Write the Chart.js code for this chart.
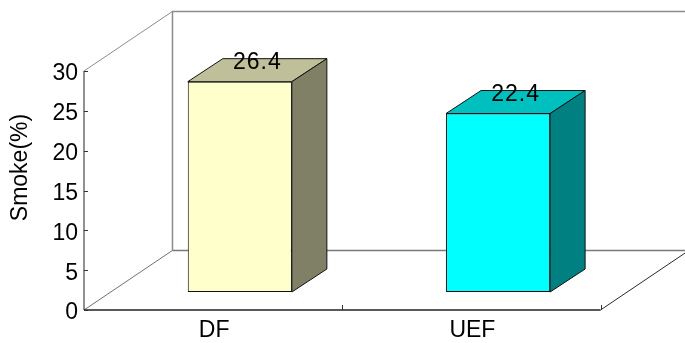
<!DOCTYPE html>
<html>
<head>
<meta charset="utf-8">
<style>html,body{margin:0;padding:0;background:#fff}canvas{display:block}</style>
<script src="https://cdn.jsdelivr.net/npm/chart.js@4"></script>
</head>
<body>
<canvas id="c" width="685" height="343"></canvas>
<script>
const categories = ['DF', 'UEF'];
const smoke = [26.4, 22.4];
const yTicks = [0, 5, 10, 15, 20, 25, 30];
const frontColors = ['#FFFFCC', '#00FFFF'];
const topColors = ['#BFBF99', '#00BFBF'];
const sideColors = ['#808066', '#008080'];

const FONT = '"Liberation Sans", Arial, sans-serif';
const FONT_SIZE = 23;
const WALL = {dx: 88.5, dy: 59.6}; // depth of the box behind the axes
const BAR = {dx: 35, dy: 23};      // depth of each bar
const BAR_SHIFT = {x: 26.7, y: -18}; // bars stand in the middle of the floor

function poly(ctx, pts, fill, stroke, width) {
  ctx.beginPath();
  pts.forEach((p, i) => i ? ctx.lineTo(p[0], p[1]) : ctx.moveTo(p[0], p[1]));
  if (fill) { ctx.closePath(); ctx.fillStyle = fill; ctx.fill(); }
  if (stroke) { ctx.strokeStyle = stroke; ctx.lineWidth = width || 1; ctx.stroke(); }
}

const box3d = {
  id: 'box3d',
  // Back wall and floor
  beforeDatasetsDraw(chart) {
    const {ctx, chartArea: a} = chart;
    const y0 = chart.scales.y.getPixelForValue(0);
    const yMax = chart.scales.y.getPixelForValue(30);
    const bx = a.left + WALL.dx;
    const wall = '#8c8c8c';
    ctx.save();
    poly(ctx, [[685, yMax - WALL.dy], [bx, yMax - WALL.dy], [bx, y0 - WALL.dy]], null, wall, 1.5);
    poly(ctx, [[bx, y0 - WALL.dy], [685, y0 - WALL.dy]], null, '#7a7a7a', 1.5);
    poly(ctx, [[a.left, yMax], [bx, yMax - WALL.dy]], null, '#8c8c8c', 1);
    poly(ctx, [[a.left, y0], [bx, y0 - WALL.dy]], null, '#707070', 1);
    poly(ctx, [[a.right, y0], [a.right + WALL.dx, y0 - WALL.dy]], null, '#2a2a2a', 1);
    ctx.restore();
  },
  // Bars are drawn raised above the front axis, with their depth faces first
  beforeDatasetDraw(chart, args) {
    const {ctx} = chart;
    ctx.save();
    ctx.translate(BAR_SHIFT.x, BAR_SHIFT.y);
    args.meta.data.forEach((bar, i) => {
      const l = bar.x - bar.width / 2, r = bar.x + bar.width / 2;
      const t = bar.y, b = bar.base;
      poly(ctx, [[l, t], [l + BAR.dx, t - BAR.dy], [r + BAR.dx, t - BAR.dy], [r, t]], topColors[i], '#111', 1);
      poly(ctx, [[r, t], [r + BAR.dx, t - BAR.dy], [r + BAR.dx, b - BAR.dy], [r, b]], sideColors[i], '#111', 1);
    });
  },
  afterDatasetDraw(chart) {
    chart.ctx.restore();
  },
  // Axis lines, inward ticks, value labels and the axis title
  afterDraw(chart) {
    const {ctx, chartArea: a, scales: {x, y}} = chart;
    const y0 = y.getPixelForValue(0);
    ctx.save();
    ctx.strokeStyle = '#111';
    ctx.lineWidth = 1;
    poly(ctx, [[a.left, y.getPixelForValue(30)], [a.left, y0]], null, '#222', 1);
    poly(ctx, [[a.left, y0], [a.right, y0]], null, '#222', 1.5);
    yTicks.forEach(v => {
      const p = Math.round(y.getPixelForValue(v)) + 0.5;
      poly(ctx, [[a.left, p], [a.left + 4, p]], null, '#333', 1);
    });
    const half = (x.getPixelForTick(1) - x.getPixelForTick(0)) / 2;
    [x.getPixelForTick(0) + half, x.getPixelForTick(1) + half].forEach(px => {
      const p = Math.round(px) + 0.5;
      poly(ctx, [[p, y0], [p, y0 - 5]], null, '#333', 1);
    });

    ctx.fillStyle = '#000';
    ctx.font = FONT_SIZE + 'px ' + FONT;
    ctx.textAlign = 'center';
    ctx.textBaseline = 'middle';
    ctx.letterSpacing = '1px';
    chart.getDatasetMeta(0).data.forEach((bar, i) => {
      ctx.fillText(smoke[i].toFixed(1), bar.x + BAR_SHIFT.x + BAR.dx / 2, bar.y + BAR_SHIFT.y - 19);
    });
    ctx.letterSpacing = '0px';

    ctx.translate(21, 167.5);
    ctx.rotate(-Math.PI / 2);
    ctx.fillText('Smoke(%)', 0, 0);
    ctx.restore();
  }
};

new Chart(document.getElementById('c'), {
  type: 'bar',
  data: {
    labels: categories,
    datasets: [{
      data: smoke,
      backgroundColor: frontColors,
      borderColor: '#111',
      borderWidth: 1,
      borderSkipped: false,
      barPercentage: 0.403,
      categoryPercentage: 1,
      clip: false
    }]
  },
  options: {
    responsive: false,
    animation: false,
    events: [],
    layout: {padding: {left: 0, top: 71, right: 84.5, bottom: 0}},
    plugins: {legend: {display: false}, tooltip: {enabled: false}},
    scales: {
      x: {
        afterFit(s) { s.height = 33; },
        grid: {display: false},
        border: {display: false},
        ticks: {color: '#000', font: {family: FONT, size: FONT_SIZE}, padding: -1, labelOffset: 1, maxRotation: 0}
      },
      y: {
        min: 0,
        max: 30,
        afterFit(s) { s.width = 84; },
        afterBuildTicks(s) { s.ticks = yTicks.map(v => ({value: v})); },
        grid: {display: false},
        border: {display: false},
        ticks: {color: '#000', font: {family: FONT, size: FONT_SIZE}, padding: -2, labelOffset: 3}
      }
    }
  },
  plugins: [box3d]
});
</script>
</body>
</html>
